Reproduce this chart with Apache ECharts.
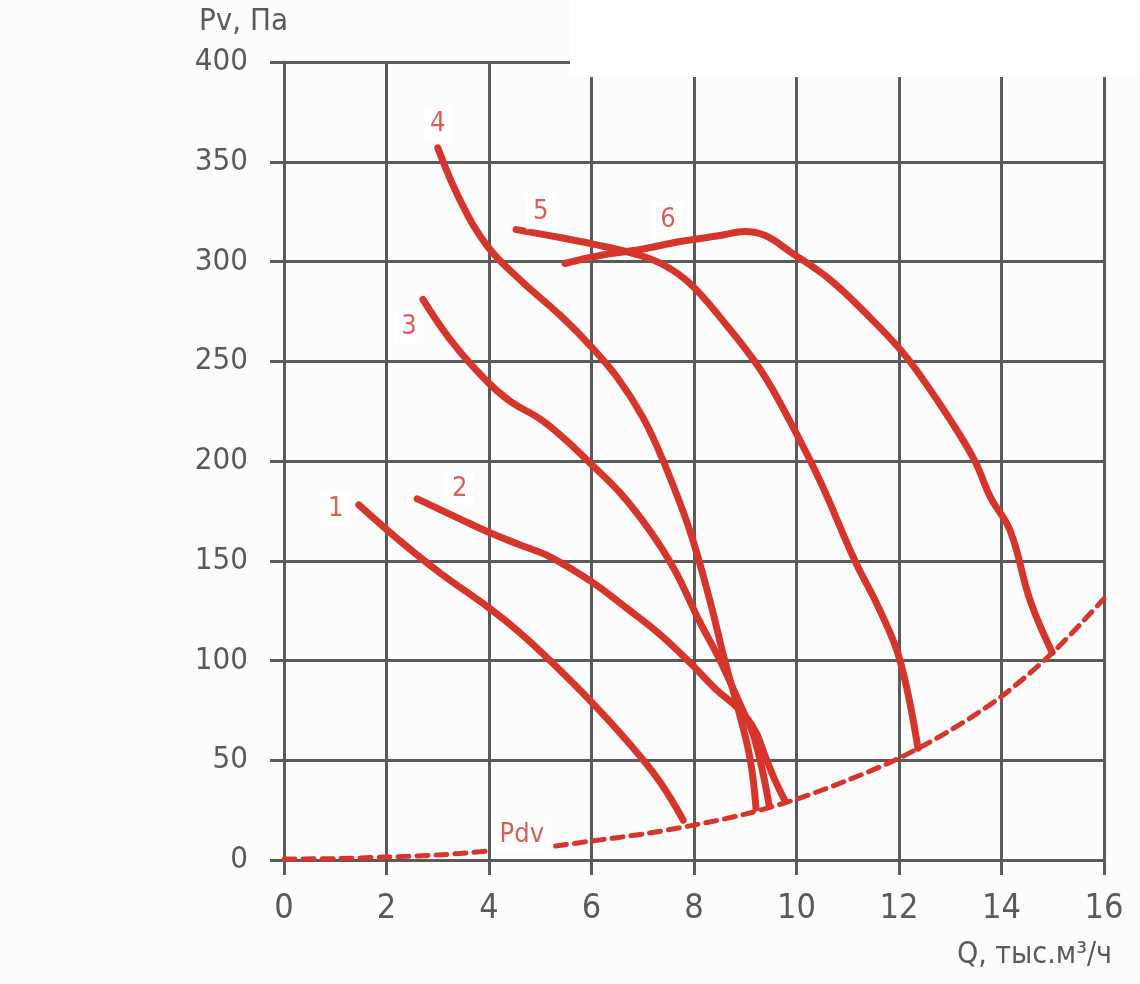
<!DOCTYPE html>
<html>
<head>
<meta charset="utf-8">
<script src="https://cdn.jsdelivr.net/npm/echarts@6/dist/echarts.min.js"></script>
<style>
  html, body { margin: 0; padding: 0; background: #fcfcfc; }
  #chart { width: 1140px; height: 984px; }
</style>
</head>
<body>
<div id="chart"></div>
<script>
// характеристики вентиляторов 1..6, Q (тыс.м3/ч) / Pv (Па)
const curve1 = [[1.46,178],[2.26,160],[3.04,144],[4.02,126],[4.6,114],[5.19,100],[5.97,80],[6.75,58],[7.34,39],[7.79,20]]
const curve2 = [[2.6,181],[3.43,171],[4.02,164],[4.6,158],[5.19,152],[5.97,140],[6.75,125],[7.34,113],[7.92,99],[8.41,86],[8.9,75],[9.19,65],[9.39,52],[9.58,40],[9.77,30]]
const curve3 = [[2.71,281],[3.24,261],[3.92,241],[4.41,230],[5.0,221],[5.48,211],[5.97,199],[6.56,184],[7.14,165],[7.63,145],[8.1,120],[8.51,100],[8.9,78],[9.19,60],[9.47,27]]
const curve4 = [[3.0,357],[3.43,331],[3.96,308],[4.6,291],[5.39,273],[5.97,258],[6.5,242],[7.0,222],[7.4,200],[7.92,165],[8.31,130],[8.6,100],[8.9,72],[9.1,50],[9.21,26]]
const curve5 = [[4.53,316],[5.39,312],[6.17,308],[6.95,303],[7.43,298],[7.92,289],[8.51,272],[9.29,246],[9.87,220],[10.46,190],[11.14,150],[11.63,125],[12.02,100],[12.37,56]]
const curve6 = [[5.48,299],[6.17,303],[6.95,306],[7.73,310],[8.51,313],[8.99,315],[9.39,313],[9.87,305],[10.65,291],[11.43,272],[12.02,256],[12.41,243],[12.99,221],[13.48,200],[13.78,182],[14.17,165],[14.56,130],[14.99,104]]
// динамическое давление
const pdv = [[0,0.5],[1,0.7],[2,1.5],[3,2.5],[4,4.5],[4.6,'-'],[5.3,7],[6,9.5],[7,13],[8,17.5],[9,23],[10,30.5],[11,40],[12,51],[13,65],[14,82],[15,104],[16,131]]
// подписи кривых
const labelNames = ['1','2','3','4','5','6','Pdv']
const labelPoints = [[1.01,176],[3.43,186],[2.44,267],[3.0,369],[5.01,325],[7.49,321],[4.64,12.5]]
const xTicks = [0,2,4,6,8,10,12,14,16]
const yTicks = [0,50,100,150,200,250,300,350,400]

const red = '#d5352b'
const grey = '#5a5a5a'
const font = '"Liberation Sans Narrow", "DejaVu Sans Condensed", Roboto, sans-serif'

const chart = echarts.init(document.getElementById('chart'), null, {renderer: 'canvas'})

const curveSeries = [curve1, curve2, curve3, curve4, curve5, curve6].map((d, i) => ({
  name: String(i + 1),
  type: 'line',
  data: d,
  smooth: 0.4,
  showSymbol: false,
  symbol: 'none',
  lineStyle: {color: red, width: 7, cap: 'round', join: 'round'},
  z: 3
}))

chart.setOption({
  animation: false,
  backgroundColor: '#fcfcfc',
  grid: {left: 284, right: 36, top: 62, bottom: 124},
  xAxis: {
    type: 'value',
    min: xTicks[0],
    max: xTicks[xTicks.length - 1],
    interval: 2,
    axisLine: {show: true, lineStyle: {color: grey, width: 3}},
    axisTick: {show: true, length: 15, lineStyle: {color: grey, width: 3}},
    axisLabel: {color: grey, fontSize: 34, fontFamily: font, margin: 32},
    splitLine: {show: true, lineStyle: {color: grey, width: 3}}
  },
  yAxis: {
    type: 'value',
    min: yTicks[0],
    max: yTicks[yTicks.length - 1],
    interval: 50,
    axisLine: {show: true, lineStyle: {color: grey, width: 3}},
    axisTick: {show: true, length: 14, lineStyle: {color: grey, width: 3}},
    axisLabel: {color: grey, fontSize: 31, fontFamily: font, margin: 36},
    splitLine: {show: true, lineStyle: {color: grey, width: 3}}
  },
  graphic: [
    {type: 'rect', shape: {x: 570, y: 0, width: 570, height: 77}, style: {fill: '#ffffff'}, z: 50},
    {type: 'text', left: 199, top: 6, style: {text: 'Pv, Па', fill: grey, fontSize: 31, fontFamily: font}, z: 60},
    {type: 'text', right: 28, top: 940, style: {text: 'Q, тыс.м³/ч', fill: grey, fontSize: 30, fontFamily: font}, z: 60}
  ],
  series: [
    ...curveSeries,
    {
      name: 'Pdv',
      type: 'line',
      data: pdv,
      smooth: 0.3,
      connectNulls: false,
      symbol: 'none',
      lineStyle: {color: red, width: 5, type: [11, 8], cap: 'round'},
      z: 2
    },
    {
      type: 'scatter',
      data: labelPoints.map((p, i) => ({value: p, name: labelNames[i]})),
      symbolSize: 0,
      z: 5,
      label: {
        show: true,
        position: 'inside',
        formatter: p => p.name,
        color: red,
        fontSize: 27,
        fontFamily: font,
        backgroundColor: '#ffffff',
        padding: [4, 7]
      }
    }
  ]
})
</script>
</body>
</html>
